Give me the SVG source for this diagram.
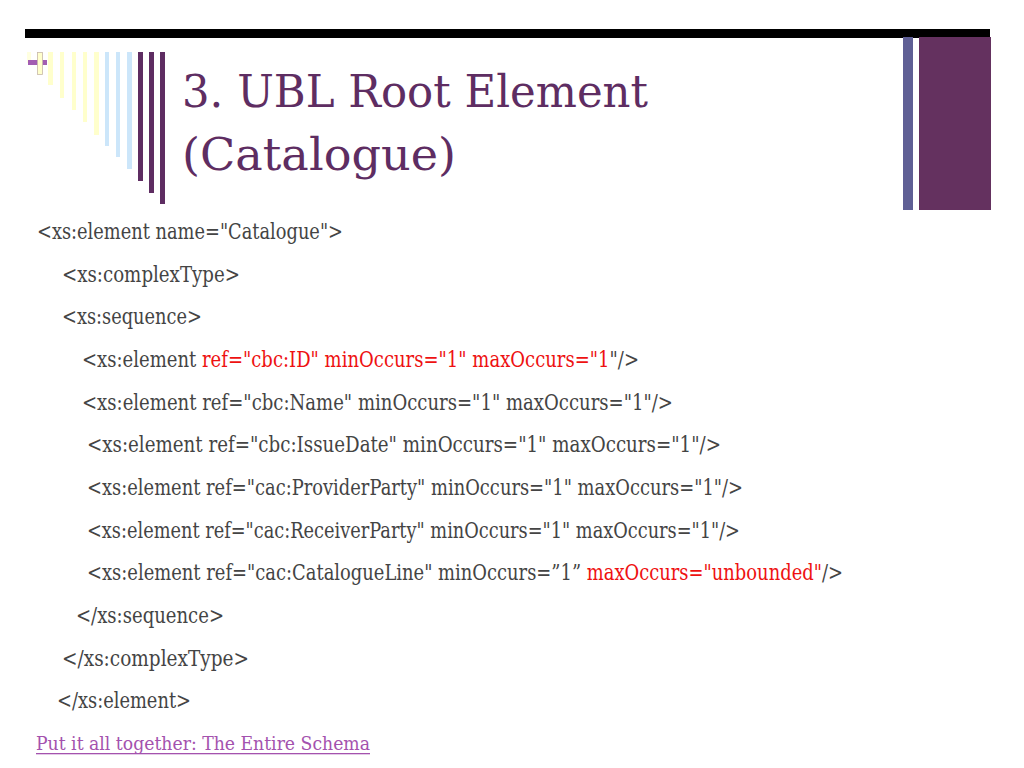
<svg xmlns="http://www.w3.org/2000/svg" width="1024" height="768" viewBox="0 0 1024 768">
<style>
.t{font-family:"DejaVu Serif","Liberation Serif",serif;font-size:22px;fill:#444444}
.r{fill:#EE1111}
.title{font-family:"DejaVu Serif","Liberation Serif",serif;font-size:45px;fill:#5E2D62}
.link{font-family:"DejaVu Serif","Liberation Serif",serif;font-size:18.5px;fill:#A452AE}
</style>
<rect width="1024" height="768" fill="#ffffff"/>
<g id="decoration">
<rect x="25" y="29" width="965" height="9" fill="#000000"/>
<rect x="903" y="37" width="10" height="173" fill="#5F5F95"/>
<rect x="919" y="37" width="72" height="173" fill="#64315F"/>
<rect x="27" y="52" width="4" height="11" fill="#FFFFE0"/>
<rect x="48" y="52" width="5" height="33" fill="#FFFFCC"/>
<rect x="60" y="52" width="4" height="46" fill="#FFFFCC"/>
<rect x="72" y="52" width="4" height="58" fill="#FFFFCC"/>
<rect x="83" y="52" width="4" height="70" fill="#FFFFCC"/>
<rect x="94" y="52" width="5" height="83" fill="#FFFFCC"/>
<rect x="105" y="52" width="4" height="94" fill="#CCE6FA"/>
<rect x="116" y="52" width="4" height="105" fill="#CCE6FA"/>
<rect x="127" y="52" width="5" height="117" fill="#CCE6FA"/>
<rect x="138" y="52" width="5" height="129" fill="#5E2D62"/>
<rect x="149" y="52" width="5" height="141" fill="#5E2D62"/>
<rect x="160" y="52" width="5" height="152" fill="#5E2D62"/>
<rect x="28" y="60" width="19" height="5" fill="#A25DB2"/>
<rect x="37.5" y="52.5" width="5" height="22" fill="#FFFFCC" stroke="#C8B8A8" stroke-width="0.8"/>
</g>
<g id="title">
<text class="title" x="182" y="107" textLength="466" lengthAdjust="spacingAndGlyphs">3. UBL Root Element</text>
<text class="title" x="182" y="170" textLength="274" lengthAdjust="spacingAndGlyphs">(Catalogue)</text>
</g>
<g id="code" xml:space="preserve" transform="scale(0.81,1)">
<text class="t" x="45.68" y="239" textLength="377.8" lengthAdjust="spacingAndGlyphs">&lt;xs:element name="Catalogue"&gt;</text>
<text class="t" x="76.54" y="282" textLength="219.75" lengthAdjust="spacingAndGlyphs">&lt;xs:complexType&gt;</text>
<text class="t" x="76.54" y="324" textLength="172.84" lengthAdjust="spacingAndGlyphs">&lt;xs:sequence&gt;</text>
<text class="t" x="101.23" y="367" textLength="687.65" lengthAdjust="spacingAndGlyphs">&lt;xs:element <tspan class="r">ref="cbc:ID"   minOccurs="1" maxOccurs="1</tspan>"/&gt;</text>
<text class="t" x="101.23" y="410" textLength="729.63" lengthAdjust="spacingAndGlyphs">&lt;xs:element ref="cbc:Name"   minOccurs="1" maxOccurs="1"/&gt;</text>
<text class="t" x="107.41" y="452" textLength="782.72" lengthAdjust="spacingAndGlyphs">&lt;xs:element ref="cbc:IssueDate"  minOccurs="1" maxOccurs="1"/&gt;</text>
<text class="t" x="107.41" y="495" textLength="809.88" lengthAdjust="spacingAndGlyphs">&lt;xs:element ref="cac:ProviderParty"  minOccurs="1" maxOccurs="1"/&gt;</text>
<text class="t" x="107.41" y="538" textLength="806.17" lengthAdjust="spacingAndGlyphs">&lt;xs:element ref="cac:ReceiverParty" minOccurs="1" maxOccurs="1"/&gt;</text>
<text class="t" x="107.41" y="580" textLength="933.33" lengthAdjust="spacingAndGlyphs">&lt;xs:element ref="cac:CatalogueLine" minOccurs=”1” <tspan class="r">maxOccurs="unbounded"</tspan>/&gt;</text>
<text class="t" x="93.83" y="623" textLength="182.72" lengthAdjust="spacingAndGlyphs">&lt;/xs:sequence&gt;</text>
<text class="t" x="76.54" y="666" textLength="230.86" lengthAdjust="spacingAndGlyphs">&lt;/xs:complexType&gt;</text>
<text class="t" x="70.37" y="708" textLength="165.43" lengthAdjust="spacingAndGlyphs">&lt;/xs:element&gt;</text>
</g>
<g id="link">
<text class="link" x="36" y="750" textLength="334" lengthAdjust="spacingAndGlyphs">Put it all together: The Entire Schema</text>
<rect x="36" y="753" width="334" height="1.3" fill="#A452AE"/>
</g>
</svg>
